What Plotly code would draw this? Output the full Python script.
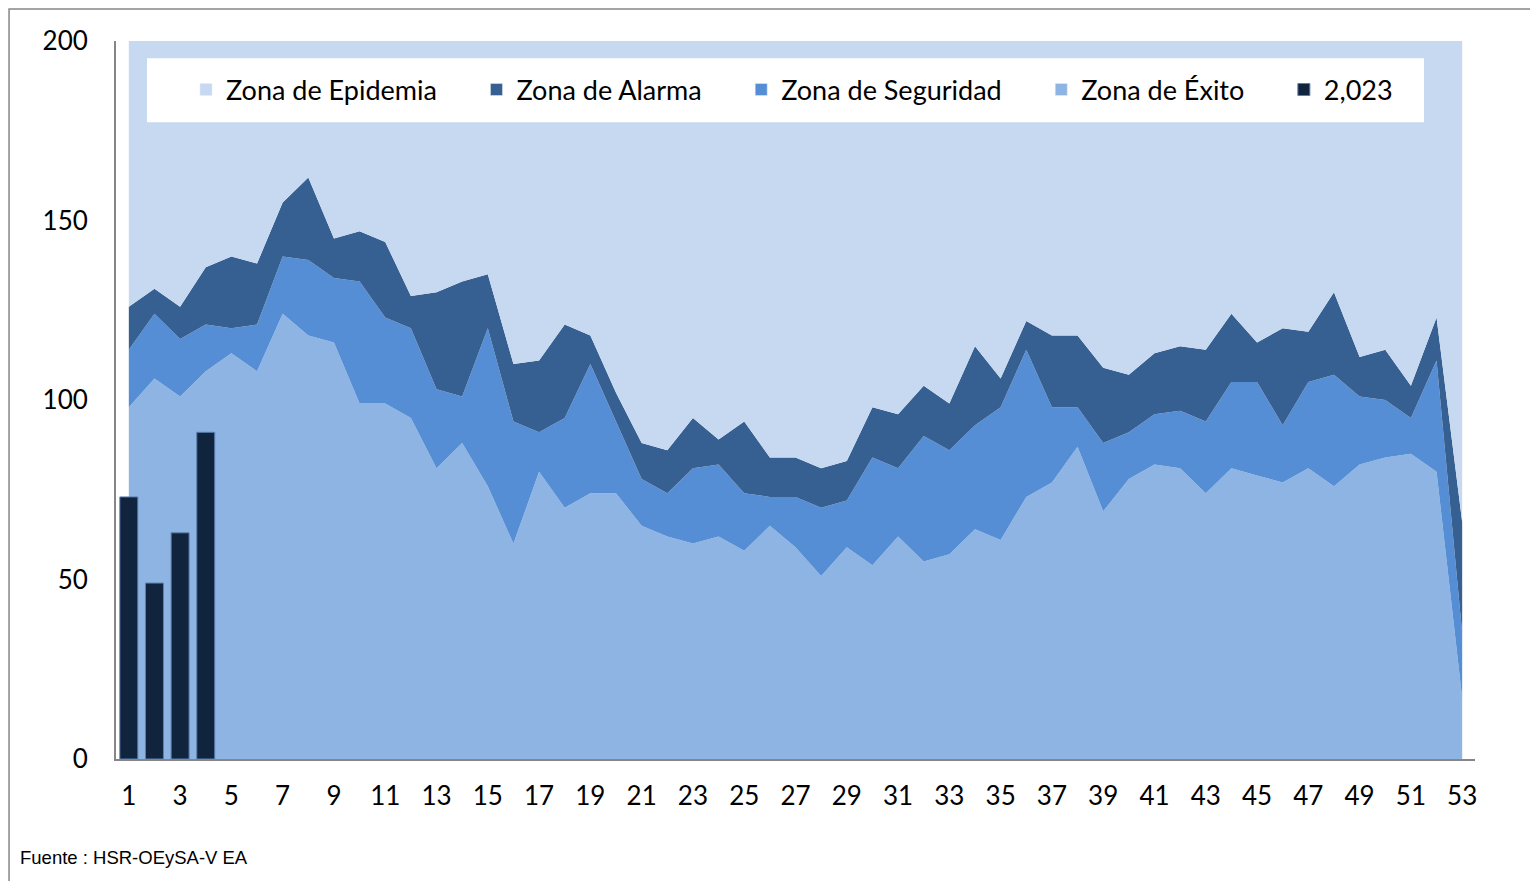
import plotly.graph_objects as go

# Semanas epidemiologicas
semanas = list(range(1, 54))

# Limites superiores de cada zona (canal endemico)
exito = [98, 106, 101, 108, 113, 108, 124, 118, 116, 99, 99, 95, 81, 88, 76, 60, 80, 70, 74, 74,
         65, 62, 60, 62, 58, 65, 59, 51, 59, 54, 62, 55, 57, 64, 61, 73, 77, 87, 69, 78,
         82, 81, 74, 81, 79, 77, 81, 76, 82, 84, 85, 80, 17]
seguridad = [114, 124, 117, 121, 120, 121, 140, 139, 134, 133, 123, 120, 103, 101, 120, 94, 91, 95, 110, 94,
             78, 74, 81, 82, 74, 73, 73, 70, 72, 84, 81, 90, 86, 93, 98, 114, 98, 98, 88, 91,
             96, 97, 94, 105, 105, 93, 105, 107, 101, 100, 95, 111, 35]
alarma = [126, 131, 126, 137, 140, 138, 155, 162, 145, 147, 144, 129, 130, 133, 135, 110, 111, 121, 118, 102,
          88, 86, 95, 89, 94, 84, 84, 81, 83, 98, 96, 104, 99, 115, 106, 122, 118, 118, 109, 107,
          113, 115, 114, 124, 116, 120, 119, 130, 112, 114, 104, 123, 66]
epidemia = [200] * 53

# Casos 2023
semanas_2023 = [1, 2, 3, 4]
casos_2023 = [73, 49, 63, 91]

C_EXITO, C_SEG, C_ALARMA, C_EPI, C_2023 = "#8EB4E3", "#558ED5", "#376092", "#C6D9F1", "#10243E"
ESP = "\u00a0" * 5  # separacion entre entradas de la leyenda

fig = go.Figure()

# areas del canal (sin leyenda propia)
zonas = [
    (exito, C_EXITO, "tozeroy"),
    (seguridad, C_SEG, "tonexty"),
    (alarma, C_ALARMA, "tonexty"),
    (epidemia, C_EPI, "tonexty"),
]
for valores, color, relleno in zonas:
    fig.add_trace(go.Scatter(
        x=semanas, y=valores, mode="lines", showlegend=False,
        line=dict(width=0, color=color), fill=relleno, fillcolor=color,
    ))

# entradas de leyenda con cuadro (como en Excel)
for nombre, color in [("Zona de Epidemia", C_EPI), ("Zona de Alarma", C_ALARMA),
                      ("Zona de Seguridad", C_SEG), ("Zona de Éxito", C_EXITO)]:
    fig.add_trace(go.Bar(x=[None], y=[None], name=nombre + ESP, marker_color=color,
                         xaxis="x2", yaxis="y2"))

# barras 2023 encima de las areas
fig.add_trace(go.Bar(
    x=semanas_2023, y=casos_2023, name="2,023", width=0.7,
    marker=dict(color=C_2023, line=dict(color="#5B7FAE", width=1)),
    xaxis="x2", yaxis="y2",
))

fig.update_layout(
    width=1522, height=873,
    paper_bgcolor="white", plot_bgcolor="white",
    margin=dict(l=108, r=55, t=33, b=122),
    font=dict(family="Lato, Carlito, Open Sans, sans-serif", size=26, color="black"),
    barmode="overlay",
    showlegend=True,
    legend=dict(
        orientation="h", x=0.0515, y=0.9318, xanchor="left", yanchor="middle",
        bgcolor="rgba(0,0,0,0)", font=dict(size=27), traceorder="normal",
    ),
    xaxis=dict(
        range=[0.5, 53.5], tickmode="array", tickvals=list(range(1, 54, 2)),
        showgrid=False, zeroline=False, showline=True, linecolor="#868686", linewidth=2,
        ticks="", ticklabelstandoff=13,
    ),
    yaxis=dict(
        range=[0, 200], tickvals=[0, 50, 100, 150, 200],
        showgrid=False, zeroline=False, showline=True, linecolor="#868686", linewidth=2,
        ticks="", ticklabelstandoff=21,
    ),
    xaxis2=dict(range=[0.5, 53.5], overlaying="x", visible=False),
    yaxis2=dict(range=[0, 200], overlaying="y", visible=False),
)

# caja blanca de la leyenda
fig.add_shape(type="rect", xref="paper", yref="paper",
              x0=0.0228, x1=0.9625, y0=0.887, y1=0.976,
              fillcolor="white", line=dict(width=0), layer="above")

# Marco exterior del grafico
fig.add_shape(type="rect", xref="paper", yref="paper",
              x0=-0.0787, x1=1.2, y0=-0.3, y1=1.0446,
              line=dict(color="#868686", width=1.5), layer="below")

fig.add_annotation(
    text="Fuente : HSR-OEySA-V EA", xref="paper", yref="paper",
    x=-0.0721, y=-0.1365, xanchor="left", yanchor="middle", showarrow=False,
    font=dict(family="Liberation Sans, Arial", size=18.5, color="black"),
)

fig.write_html("out.html")
